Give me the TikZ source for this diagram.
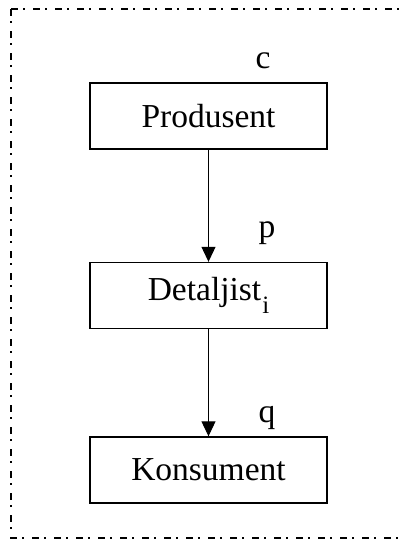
\documentclass[tikz,border=0pt]{standalone}
\usepackage{fontspec}
\setmainfont{Liberation Serif}
\usetikzlibrary{arrows.meta}
\tikzset{
  block/.style={draw, line width=1.4pt, minimum width=237pt, minimum height=66pt,
    inner sep=0pt, font=\fontsize{33.5}{38}\selectfont},
  flow/.style={draw, line width=1pt, -{Triangle[length=15pt,width=14pt]}},
  tag/.style={anchor=base, inner sep=0pt, font=\fontsize{33.5}{38}\selectfont},
  frame/.style={line width=1.4pt, dash pattern=on 7pt off 5pt on 1.5pt off 8.5pt}
}
\begin{document}
\begin{tikzpicture}[x=1pt,y=1pt]
  \useasboundingbox (0,0) rectangle (400,-547);
  % dash-dot frame, open at the right
  \coordinate (tl) at (11,-9);
  \coordinate (tr) at (402,-9);
  \coordinate (bl) at (11,-538);
  \coordinate (br) at (402,-538);
  \draw[frame] (tl) -- (tr);
  \draw[frame] (tl) -- (bl) -- (br);
  % chain of actors
  \node[block] (prod) at (208.5,-116) {Produsent};
  \node[block] (det) at (208.5,-295.5) {Detaljist\kern1pt\raisebox{-13pt}{\fontsize{25}{25}\selectfont i}};
  \node[block] (kons) at (208.5,-470) {Konsument};
  \draw[flow] (prod) -- (det);
  \draw[flow] (det) -- (kons);
  % price labels
  \node[tag] (c) at (263,-68) {c};
  \node[tag] (p) at (267,-237) {p};
  \node[tag] (q) at (267,-422) {q};
\end{tikzpicture}
\end{document}
